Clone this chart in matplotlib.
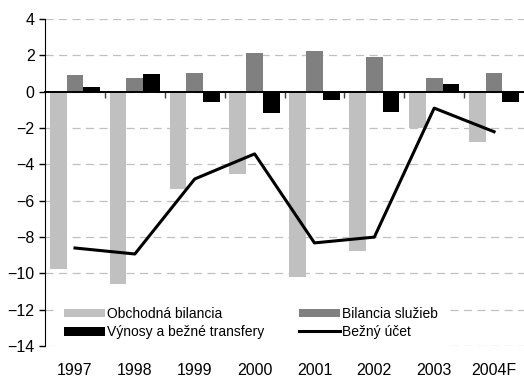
import matplotlib
matplotlib.use("Agg")
import matplotlib.pyplot as plt
import numpy as np

plt.rcParams['font.family'] = ['Liberation Sans', 'DejaVu Sans']

years = ['1997', '1998', '1999', '2000', '2001', '2002', '2003', '2004F']
obchodna = [-9.75, -10.6, -5.37, -4.5, -10.17, -8.74, -1.97, -2.74]     # trade balance
sluzby = [0.94, 0.77, 1.06, 2.15, 2.26, 1.93, 0.77, 1.06]             # services
vynosy = [0.28, 0.97, -0.57, -1.19, -0.48, -1.1, 0.44, -0.57]          # income + transfers
bezny = [-8.6, -8.93, -4.8, -3.42, -8.32, -8.0, -0.9, -2.2]           # current account

x = np.arange(len(years))
w = 0.28

fig = plt.figure(figsize=(5.24, 3.82), dpi=100)
ax = fig.add_axes([0.086, 0.094, 0.914, 0.856])

b1 = ax.bar(x - w, obchodna, w, color='#c0c0c0', label='Obchodná bilancia', zorder=2)
b2 = ax.bar(x, sluzby, w, color='#808080', label='Bilancia služieb', zorder=2)
b3 = ax.bar(x + w, vynosy, w, color='black', label='Výnosy a bežné transfery', zorder=2)
l1, = ax.plot(x, bezny, color='black', lw=2.2, label='Bežný účet', zorder=3)

ax.set_xlim(-0.5, len(years) - 0.5)
ax.set_ylim(-14, 4)
ax.set_yticks(np.arange(-14, 5, 2))
ax.yaxis.grid(True, color='#c0c0c0', lw=0.9, dashes=(6.5, 4.3), zorder=0)
ax.tick_params(axis='y', labelsize=11.5, length=4.5, width=1, pad=3, direction='out')

# category axis crosses at zero, labels stay at the bottom
ax.spines['right'].set_visible(False)
ax.spines['bottom'].set_visible(False)
ax.spines['top'].set_position(('data', 0))
ax.spines['top'].set_linewidth(1.4)
ax.spines['top'].set_zorder(4)
ax.set_xticks(x)
ax.set_xticklabels(years)
ax.set_xticks(x[:-1] + 0.5, minor=True)
ax.tick_params(axis='x', which='major', length=0, labelsize=11.5, pad=12)
ax.tick_params(axis='x', which='minor', top=True, bottom=False, direction='in',
               length=4, width=1, color='#404040')

# ncol=2 fills column-wise, so order handles to get rows like the original
handles = [b1, b3, b2, l1]
labels = [h.get_label() for h in handles]
leg = ax.legend(handles, labels, ncol=2, loc='lower left', bbox_to_anchor=(0.025, 0.0),
                borderaxespad=0, fontsize=10, frameon=True, fancybox=False,
                handlelength=2.95, handleheight=0.6, handletextpad=0.15,
                labelspacing=0.3, columnspacing=2.5, borderpad=0.5)
leg.get_frame().set_facecolor('white')
leg.get_frame().set_edgecolor('none')
leg.get_frame().set_alpha(1)
leg.set_zorder(5)

fig.savefig('out.png', dpi=100)
